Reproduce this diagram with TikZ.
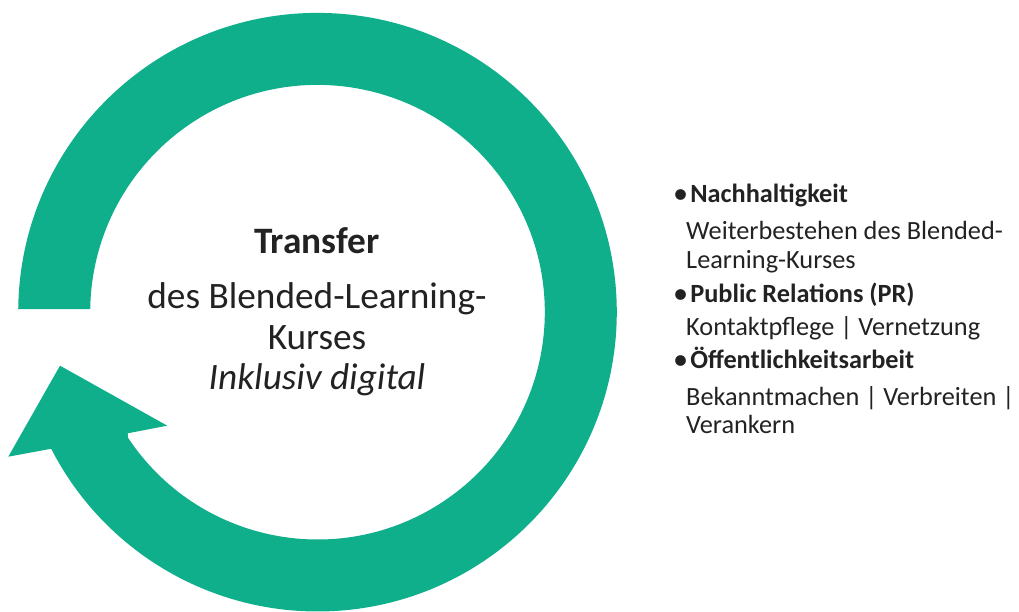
\documentclass[tikz,border=0pt]{standalone}
\usepackage{fontspec}
\setmainfont{Carlito}
\usetikzlibrary{calc}
\definecolor{ringgreen}{HTML}{10AF8B}
\definecolor{txt}{HTML}{222222}
\newcommand{\mybul}{\raisebox{-0.03em}{\scalebox{1.15}{•}}\hspace{0.08em}}
\begin{document}
\begin{tikzpicture}[x=1pt,y=1pt,
  bigtext/.style={font=\fontsize{37.3}{41}\selectfont, text=txt, inner sep=0pt, anchor=base},
  listtext/.style={font=\fontsize{26.3}{28.5}\selectfont, text=txt, inner sep=0pt, anchor=base west}]
\useasboundingbox (0,0) rectangle (1019,612);
\coordinate (C) at (317.5,299.8);
\coordinate (lw) at (8.3,155.3);
\coordinate (tip) at (60,246.3);
\coordinate (rw) at (167.3,186.3);
\coordinate (ic) at (127.7,178.7);
% circular arrow
\fill[ringgreen] ($(C)+(179.4:299.3)$) arc[start angle=179.4, end angle=-152.85, radius=299.3]
  -- (lw) -- (tip) -- (rw) -- (ic) -- ($(C)+(-146.5:227.3)$)
  arc[start angle=-146.5, end angle=179.2, radius=227.3] -- cycle;
% centre text
\node[bigtext] (t1) at (317,358) {\textbf{Transfer}};
\node[bigtext] (t2) at (317,303) {des Blended-Learning-};
\node[bigtext] (t3) at (317,262) {Kurses};
\node[bigtext] (t4) at (317,222) {\textit{Inklusiv digital}};
% list
\node[listtext] (h1) at (673,409) {\mybul\textbf{Nachhaltigkeit}};
\node[listtext] (s1a) at (686,372) {Weiterbestehen des Blended-};
\node[listtext] (s1b) at (686,343) {Learning-Kurses};
\node[listtext] (h2) at (673,309) {\mybul\textbf{Public Relations (PR)}};
\node[listtext] (s2) at (686,276) {Kontaktpflege | Vernetzung};
\node[listtext] (h3) at (673,243) {\mybul\textbf{Öffentlichkeitsarbeit}};
\node[listtext] (s3a) at (686,206) {Bekanntmachen | Verbreiten |};
\node[listtext] (s3b) at (686,178) {Verankern};
\end{tikzpicture}
\end{document}
